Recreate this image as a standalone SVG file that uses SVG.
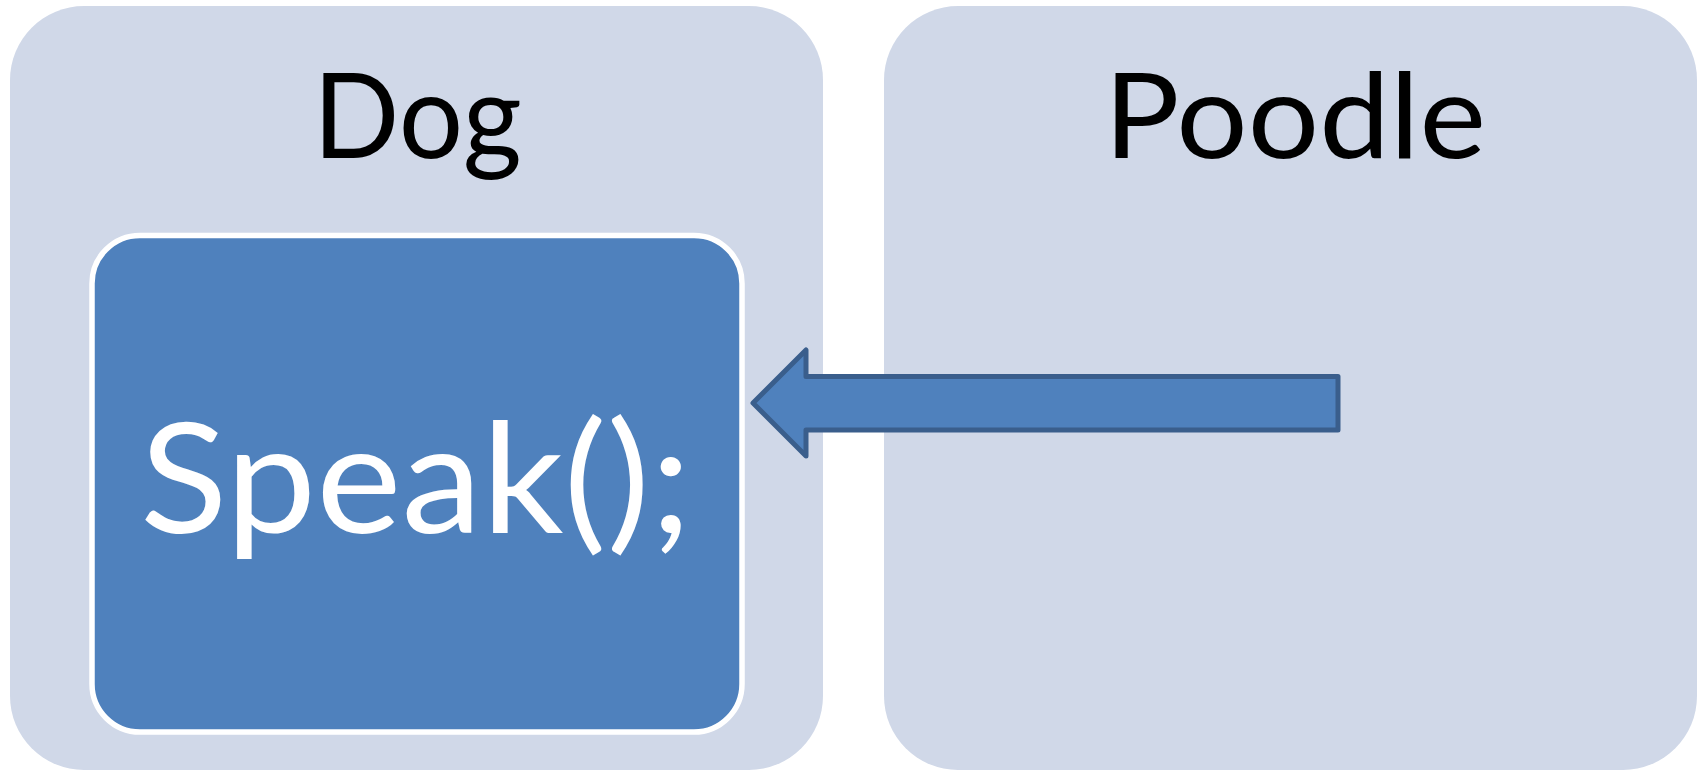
<svg xmlns="http://www.w3.org/2000/svg" width="1698" height="771" viewBox="0 0 1698 771">
<style>
.outer{fill:#d0d8e8}
.inner{fill:#4f81bd;stroke:#ffffff;stroke-width:5.5}
.arrow{fill:#4f81bd;stroke:#3a5e8c;stroke-width:5;stroke-linejoin:round}
.t{font-family:Lato,"Open Sans","Liberation Sans",sans-serif}
.title{font-size:119px;fill:#000000}
.code{font-size:154px;fill:#ffffff}
</style>
<rect width="1698" height="771" fill="#ffffff"/>
<g id="dog">
<rect class="outer" x="10" y="6" width="813" height="764" rx="74" ry="74"/>
<text class="t title" x="313" y="158" textLength="209" lengthAdjust="spacingAndGlyphs">Dog</text>
</g>
<g id="speak">
<rect class="inner" x="92" y="235.5" width="650" height="496.5" rx="48" ry="48"/>
<text class="t code" x="140" y="533" textLength="552" lengthAdjust="spacingAndGlyphs">Speak();</text>
</g>
<g id="poodle">
<rect class="outer" x="884" y="6" width="813" height="764" rx="74" ry="74"/>
<text class="t title" x="1104" y="158" textLength="382" lengthAdjust="spacingAndGlyphs">Poodle</text>
</g>
<g id="connectors">
<polygon class="arrow" points="753,403 806,350 806,376.5 1338,376.5 1338,430 806,430 806,456"/>
</g>
</svg>
